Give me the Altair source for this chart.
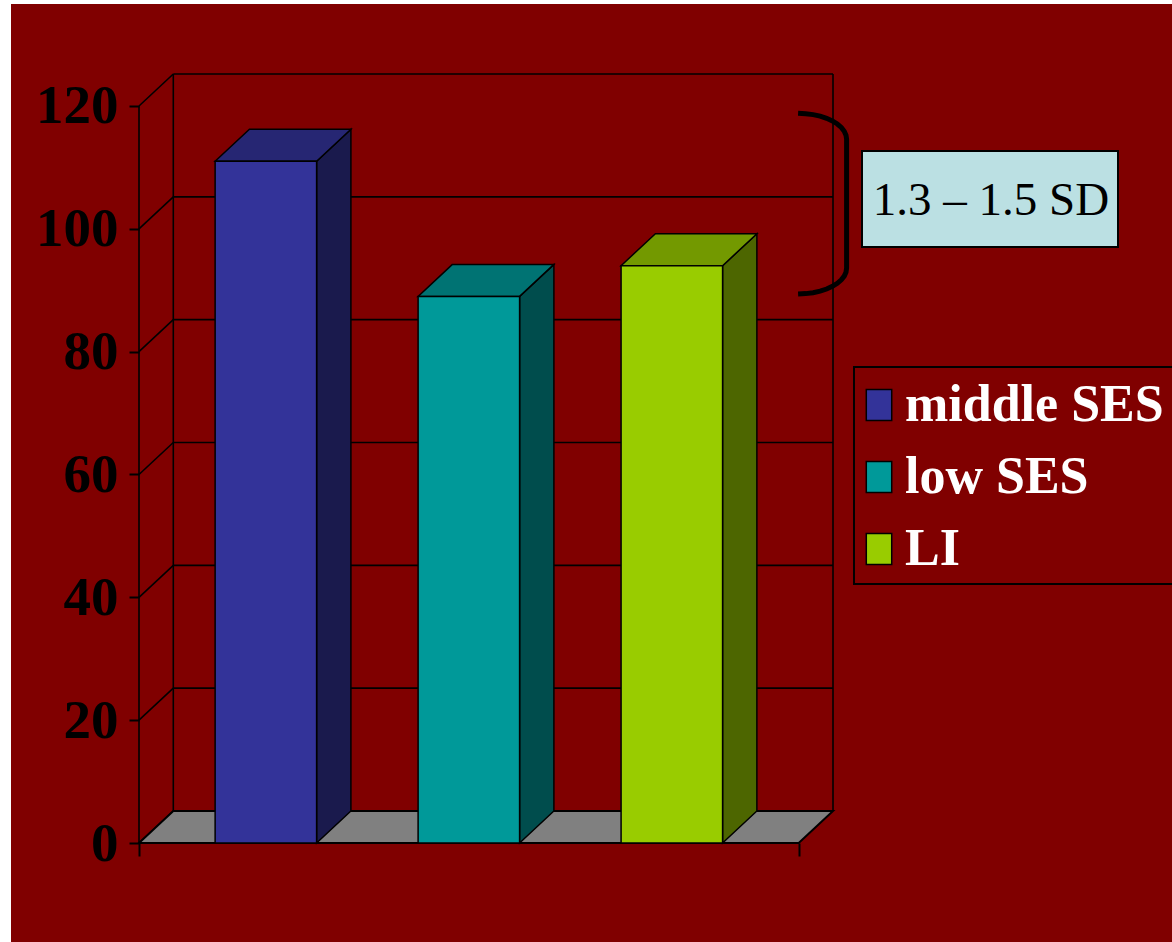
import math

import altair as alt
import pandas as pd

# --- data ---------------------------------------------------------------
groups = ["middle SES", "low SES", "LI"]
scores = [111, 89, 94]
y_ticks = [0, 20, 40, 60, 80, 100, 120]

front_colors = ["#333399", "#009999", "#99CC00"]
side_colors = ["#1A1A4D", "#004D4D", "#4D6600"]
top_colors = ["#262673", "#007373", "#739900"]

# --- 3D box geometry (in scale units) ------------------------------------
HALF = 0.25                     # half width of a bar's front face
DX, DY = 0.169, 5.21            # depth offset of the box (x units, y units)
X_LEFT, X_RIGHT = -0.625, 2.625  # front edges of the floor
Y_MAX = 120

BG = "#800000"
LINE_W = 1.6

x_scale = alt.Scale(domain=[X_LEFT, X_RIGHT + DX], nice=False, zero=False)
y_scale = alt.Scale(domain=[0, Y_MAX + DY], nice=False, zero=False)

x_axis = alt.Axis(values=[X_LEFT, X_RIGHT], labels=False, title=None, domain=False,
                  grid=False, tickSize=13, tickWidth=2, tickColor="black", zindex=1)
y_axis = alt.Axis(values=y_ticks, title=None, domain=False, grid=False,
                  tickSize=10, tickWidth=2, tickColor="black",
                  labelFont="Liberation Serif", labelFontWeight="bold",
                  labelFontSize=55, labelColor="black", labelPadding=11, zindex=1)


def X(field):
    return alt.X(field, type="quantitative", scale=x_scale, axis=x_axis)


def Y(field):
    return alt.Y(field, type="quantitative", scale=y_scale, axis=y_axis)


# --- tables built from the arrays ----------------------------------------
front_df = pd.DataFrame({
    "group": groups,
    "x0": [i - HALF for i in range(len(groups))],
    "x1": [i + HALF for i in range(len(groups))],
    "y0": [0] * len(groups),
    "y1": scores,
})

side_rows, top_rows = [], []
for i, (g, v) in enumerate(zip(groups, scores)):
    side_rows += [
        {"group": g, "fill": side_colors[i], "x": i + HALF, "y": 0, "y2": v},
        {"group": g, "fill": side_colors[i], "x": i + HALF + DX, "y": DY, "y2": v + DY},
    ]
    top_rows += [
        {"group": g, "fill": top_colors[i], "y": v, "x": i - HALF, "x2": i + HALF},
        {"group": g, "fill": top_colors[i], "y": v + DY, "x": i - HALF + DX, "x2": i + HALF + DX},
    ]
side_df = pd.DataFrame(side_rows)
top_df = pd.DataFrame(top_rows)

floor_df = pd.DataFrame({
    "y": [0, DY],
    "x": [X_LEFT, X_LEFT + DX],
    "x2": [X_RIGHT, X_RIGHT + DX],
})

wall_rows = []
for t in y_ticks:
    # back wall gridline and the matching diagonal on the side wall
    wall_rows.append({"xa": X_LEFT + DX, "xb": X_RIGHT + DX, "ya": t + DY, "yb": t + DY})
    wall_rows.append({"xa": X_LEFT, "xb": X_LEFT + DX, "ya": t, "yb": t + DY})
wall_rows.append({"xa": X_LEFT + DX, "xb": X_LEFT + DX, "ya": DY, "yb": Y_MAX + DY})
wall_rows.append({"xa": X_RIGHT + DX, "xb": X_RIGHT + DX, "ya": DY, "yb": Y_MAX + DY})
wall_rows.append({"xa": X_LEFT, "xb": X_LEFT, "ya": 0, "yb": Y_MAX})
walls_df = pd.DataFrame(wall_rows)

# brace marking the spread between the groups
brace_top, brace_bottom = 118.8, 89.4
brace_xl, brace_xr = 2.622, 2.861
brace_ry = 4.2
brace_rows = []
n = 10
for k in range(n + 1):
    th = math.pi / 2 * k / n
    brace_rows.append({"x": brace_xl + (brace_xr - brace_xl) * math.sin(th),
                       "y": brace_top - brace_ry * (1 - math.cos(th))})
for k in range(n, -1, -1):
    th = math.pi / 2 * k / n
    brace_rows.append({"x": brace_xl + (brace_xr - brace_xl) * math.sin(th),
                       "y": brace_bottom + brace_ry * (1 - math.cos(th))})
brace_df = pd.DataFrame(brace_rows).reset_index().rename(columns={"index": "order"})

one = pd.DataFrame({"k": [0]})

# --- layers ---------------------------------------------------------------
edges = alt.Chart(one).mark_rect(color="white").encode(
    x=alt.value(-139), x2=alt.value(-128), y=alt.value(-74), y2=alt.value(868)
) + alt.Chart(one).mark_rect(color="white").encode(
    x=alt.value(-139), x2=alt.value(1033), y=alt.value(-74), y2=alt.value(-70)
)

walls = alt.Chart(walls_df).mark_rule(color="black", strokeWidth=LINE_W).encode(
    x=X("xa"), x2="xb", y=Y("ya"), y2="yb"
)

floor = alt.Chart(floor_df).mark_area(
    orient="horizontal", color="#808080", stroke="black", strokeWidth=2, opacity=1
).encode(y=Y("y"), x=X("x"), x2="x2")

sides = alt.Chart(side_df).mark_area(stroke="black", strokeWidth=1.5, opacity=1).encode(
    x=X("x"), y=Y("y"), y2="y2",
    fill=alt.Fill("fill:N", scale=None), detail="group:N"
)

tops = alt.Chart(top_df).mark_area(orient="horizontal", stroke="black",
                                   strokeWidth=1.5, opacity=1).encode(
    y=Y("y"), x=X("x"), x2="x2",
    fill=alt.Fill("fill:N", scale=None), detail="group:N"
)

fronts = alt.Chart(front_df).mark_rect(stroke="black", strokeWidth=1.5, opacity=1).encode(
    x=X("x0"), x2="x1", y=Y("y0"), y2="y1",
    color=alt.Color("group:N", scale=alt.Scale(domain=groups, range=front_colors),
                    legend=alt.Legend(
                        orient="none", legendX=702, legendY=293, title=None,
                        direction="vertical",
                        symbolType="M-0.82,-1H0.82V1H-0.82Z", symbolSize=961,
                        symbolStrokeColor="black", symbolStrokeWidth=1.5,
                        symbolOpacity=1,
                        labelFont="Liberation Serif", labelFontWeight="bold",
                        labelFontSize=52, labelColor="white", labelLimit=600,
                        labelOffset=0, rowPadding=20, padding=12,
                    ))
)

# frame around the legend entries
legend_box = alt.Chart(one).mark_rect(fill=BG, stroke="black", strokeWidth=2).encode(
    x=alt.value(715), x2=alt.value(1060), y=alt.value(293), y2=alt.value(510)
)

brace = alt.Chart(brace_df).mark_line(color="black", strokeWidth=5).encode(
    x=X("x"), y=Y("y"), order="order:Q"
)

note_box = alt.Chart(one).mark_rect(fill="#BBE0E3", stroke="black", strokeWidth=2).encode(
    x=alt.value(723), x2=alt.value(979), y=alt.value(77), y2=alt.value(173)
)
note_text = alt.Chart(one).mark_text(
    text="1.3 – 1.5 SD", font="Liberation Serif", fontSize=47, color="black",
    align="center", baseline="alphabetic"
).encode(x=alt.value(852), y=alt.value(141))

chart = alt.layer(
    edges, walls, floor, sides, tops, fronts, legend_box, brace, note_box, note_text
).properties(
    width=694, height=769,
    autosize=alt.AutoSizeParams(type="none"),
    padding={"left": 139, "top": 74, "right": 339, "bottom": 99},
    background=BG,
).configure_view(stroke=None).configure_legend(strokeColor=None)

chart.save("out.html", embed_options={"renderer": "svg", "actions": False})
